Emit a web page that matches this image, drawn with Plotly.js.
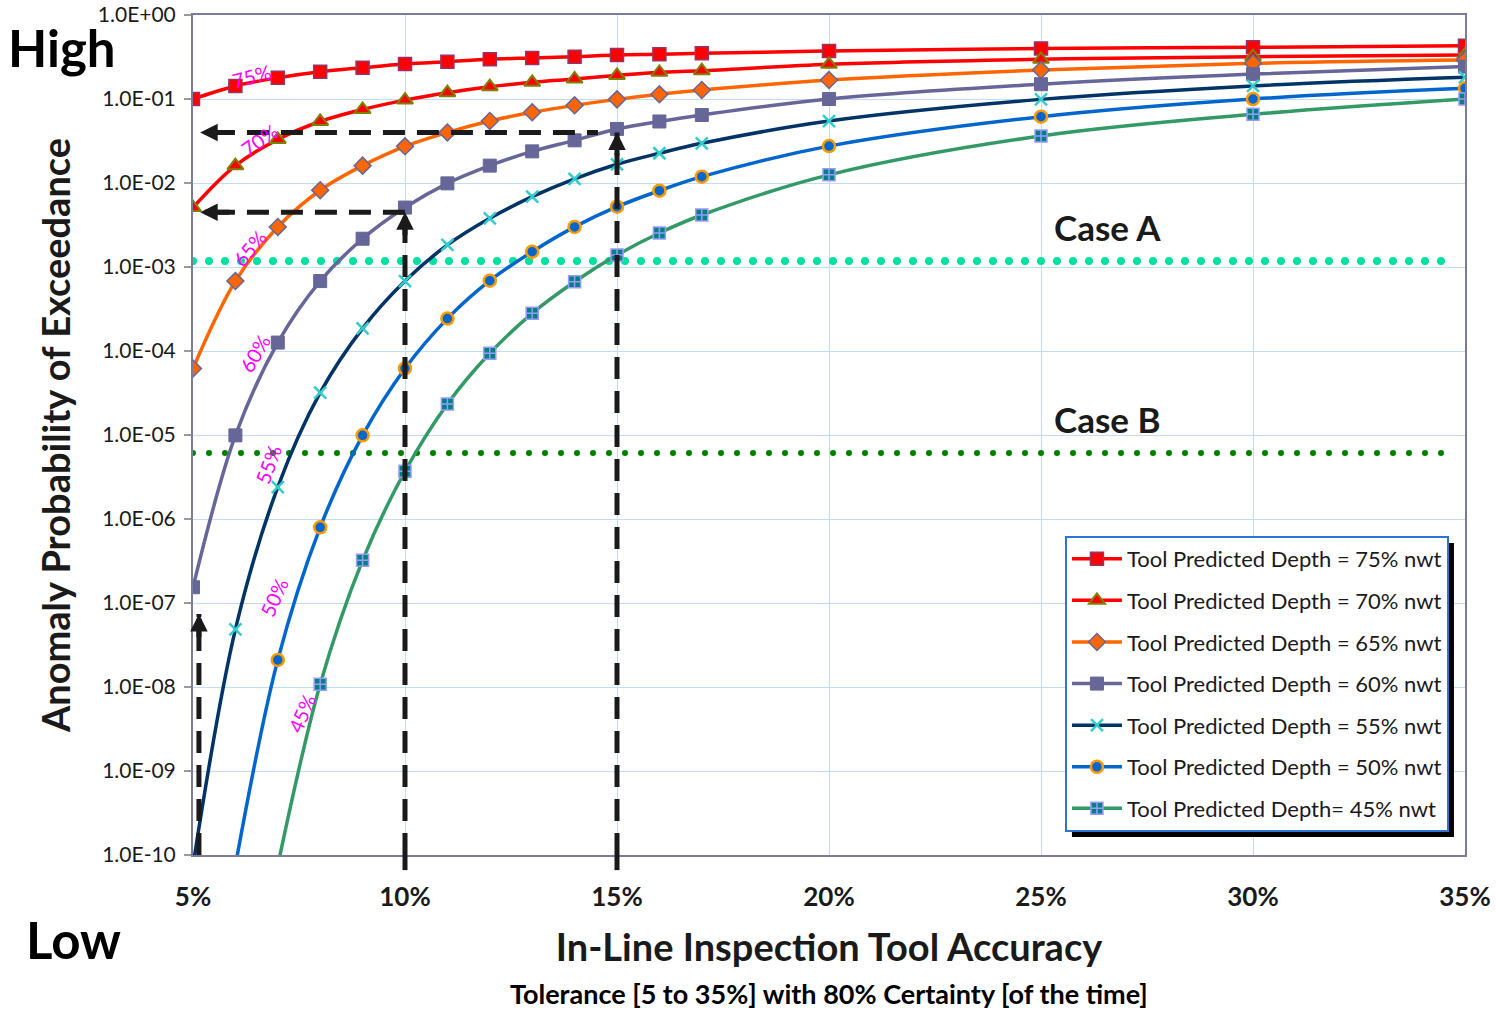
<!DOCTYPE html>
<html>
<head>
<meta charset="utf-8">
<script src="https://cdn.plot.ly/plotly-3.0.1.min.js"></script>
<style>
  html, body { margin: 0; padding: 0; background: #ffffff; }
  #chart { width: 1496px; height: 1009px; }
  /* round caps turn the zero-length dashes of the case lines into dots */
  .tracecaseA .js-line, .tracecaseB .js-line { stroke-linecap: round !important; }
</style>
</head>
<body>
<div id="chart"></div>
<script>
// Tool tolerance (% of wall thickness, 80% certainty)
const tolerance = [5, 6, 7, 8, 9, 10, 11, 12, 13, 14, 15, 16, 17, 20, 25, 30, 35];

// Probability of exceedance for each tool-predicted depth
const pod75 = [0.100, 0.143, 0.179, 0.211, 0.236, 0.261, 0.278, 0.297, 0.308, 0.319, 0.334, 0.340, 0.350, 0.373, 0.400, 0.412, 0.430];
const pod70 = [0.0051, 0.0161, 0.033, 0.054, 0.075, 0.097, 0.119, 0.140, 0.158, 0.173, 0.191, 0.208, 0.217, 0.259, 0.297, 0.319, 0.334];
const pod65 = [6.2e-5, 6.8e-4, 0.0030, 0.0082, 0.0161, 0.0273, 0.040, 0.0547, 0.0694, 0.084, 0.099, 0.114, 0.128, 0.168, 0.221, 0.266, 0.291];
const pod60 = [1.54e-7, 9.9e-6, 1.26e-4, 6.8e-4, 0.00217, 0.0051, 0.0099, 0.0161, 0.0238, 0.0322, 0.044, 0.054, 0.0645, 0.100, 0.150, 0.198, 0.243];
const pod55 = [7.5e-11, 4.86e-8, 2.4e-6, 3.19e-5, 1.86e-4, 6.8e-4, 0.00183, 0.0038, 0.00687, 0.0112, 0.0167, 0.0226, 0.0297, 0.0547, 0.099, 0.143, 0.181];
// the 50% and 45% series start at 6% and 7% tolerance
const pod50 = [7.5e-11, 2.1e-8, 7.96e-7, 9.9e-6, 6.2e-5, 2.43e-4, 6.87e-4, 0.00152, 0.0030, 0.00522, 0.0081, 0.0119, 0.0275, 0.0616, 0.100, 0.134];
const pod45 = [7.5e-11, 1.08e-8, 3.22e-7, 3.7e-6, 2.34e-5, 9.4e-5, 2.81e-4, 6.68e-4, 0.00139, 0.00254, 0.00416, 0.0125, 0.0363, 0.0657, 0.100];

const seriesNames = [
  'Tool Predicted Depth = 75% nwt',
  'Tool Predicted Depth = 70% nwt',
  'Tool Predicted Depth = 65% nwt',
  'Tool Predicted Depth = 60% nwt',
  'Tool Predicted Depth = 55% nwt',
  'Tool Predicted Depth = 50% nwt',
  'Tool Predicted Depth= 45% nwt'
];

// Acceptance thresholds
const caseA = 1.18e-3;
const caseB = 6.1e-6;
const caseLineEnd = 34.7;

// X tick labels
const xTickVals = [5, 10, 15, 20, 25, 30, 35];
const xTickText = ['5%', '10%', '15%', '20%', '25%', '30%', '35%'];
// Y tick labels
const yTickVals = [1e-10, 1e-9, 1e-8, 1e-7, 1e-6, 1e-5, 1e-4, 1e-3, 1e-2, 1e-1, 1];
const yTickText = ['1.0E-10', '1.0E-09', '1.0E-08', '1.0E-07', '1.0E-06', '1.0E-05', '1.0E-04', '1.0E-03', '1.0E-02', '1.0E-01', '1.0E+00'];

// Curve labels along the left edge: [text, tolerance, probability, angle]
const curveLabels = [
  ['75%', 6.37, 0.188, -15],
  ['70%', 6.56, 0.0325, -35],
  ['65%', 6.34, 0.00168, -50],
  ['60%', 6.46, 9.46e-5, -60],
  ['55%', 6.77, 4.4e-6, -70],
  ['50%', 6.91, 1.18e-7, -66],
  ['45%', 7.57, 4.9e-9, -66]
];

// Reading examples: dashed guides with arrows
const readHigh = 0.04;      // 60% depth at 15% tolerance
const readLow = 0.0045;     // 60% depth at 10% tolerance
const readLeft = 5.17;      // arrow tips at the probability axis
const readTipBottom = 7.4e-8;
const readBottomX = 5.14;

const FONT = 'Lato, "Open Sans", sans-serif';
const INK = '#1a1a1a';
const FRAME = '#7b7b9b';
const GRID = '#c3dcf5';

function series(x, y, name, lineColor, marker) {
  return {
    type: 'scatter', mode: 'lines+markers', x: x, y: y, name: name,
    legendgroup: name,
    line: { color: lineColor, width: 3.5, shape: 'spline', smoothing: 1 },
    marker: marker,
    hoverinfo: 'x+y+name'
  };
}

const traces = [
  {
    type: 'scatter', mode: 'lines', x: [5, caseLineEnd], y: [caseA, caseA],
    uid: 'caseA', showlegend: false, hoverinfo: 'skip',
    line: { color: '#00e0a0', width: 8, dash: '0px,16px' }
  },
  {
    type: 'scatter', mode: 'lines', x: [5, caseLineEnd], y: [caseB, caseB],
    uid: 'caseB', showlegend: false, hoverinfo: 'skip',
    line: { color: '#008000', width: 6, dash: '0px,16px' }
  },
  series(tolerance, pod75, seriesNames[0], '#ff0000',
    { symbol: 'square', size: 13, color: '#ff0000', line: { color: '#993366', width: 1.5 } }),
  series(tolerance, pod70, seriesNames[1], '#ff0000',
    { symbol: 'triangle-up', size: 14, color: '#ff0000', line: { color: '#808000', width: 2 } }),
  series(tolerance, pod65, seriesNames[2], '#ff6600',
    { symbol: 'diamond', size: 13, color: '#ff6600', line: { color: '#666699', width: 1.5 } }),
  series(tolerance, pod60, seriesNames[3], '#666699',
    { symbol: 'square', size: 13, color: '#666699', line: { color: '#666699', width: 1 } }),
  series(tolerance, pod55, seriesNames[4], '#003366',
    { symbol: 'x-thin-open', size: 12, color: '#33cccc', line: { color: '#33cccc', width: 2.5 } }),
  series(tolerance.slice(1), pod50, seriesNames[5], '#0066cc',
    { symbol: 'circle', size: 12, color: '#0066cc', line: { color: '#ff9900', width: 2.5 } }),
  series(tolerance.slice(2), pod45, seriesNames[6], '#339966',
    { symbol: 'square-cross', size: 12, color: '#008080', line: { color: '#9999ff', width: 1.5 } })
];

const lg = Math.log10;
const dashStyle = { color: INK, width: 5, dash: '22px,12px' };

const shapes = [
  // legend drop shadow (placed against the drawn legend box below)
  { type: 'rect', xref: 'paper', yref: 'paper', x0: 0.6895, x1: 0.9937, y0: 0.0202, y1: 0.3738,
    fillcolor: '#000000', line: { width: 0 }, layer: 'above' },
  // horizontal guides
  { type: 'line', xref: 'x', yref: 'y', x0: readLeft + 0.3, x1: 14.55, y0: readHigh, y1: readHigh, line: dashStyle },
  { type: 'line', xref: 'x', yref: 'y', x0: readLeft + 0.3, x1: 10.05, y0: readLow, y1: readLow, line: dashStyle },
  // vertical guides
  { type: 'line', xref: 'x', yref: 'y', x0: 10, x1: 10, y0: 1e-10, y1: readLow, line: dashStyle },
  { type: 'line', xref: 'x', yref: 'y', x0: 15, x1: 15, y0: 1e-10, y1: readHigh, line: dashStyle },
  { type: 'line', xref: 'x', yref: 'y', x0: readBottomX, x1: readBottomX, y0: 1e-10, y1: readTipBottom, line: dashStyle },
  // guide ends below the plot frame
  { type: 'line', xref: 'x', yref: 'paper', x0: 10, x1: 10, y0: -0.018, y1: 0, line: { color: INK, width: 5 } },
  { type: 'line', xref: 'x', yref: 'paper', x0: 15, x1: 15, y0: -0.018, y1: 0, line: { color: INK, width: 5 } }
];

function arrow(x, y, ax, ay) {
  return { x: x, y: lg(y), xref: 'x', yref: 'y', showarrow: true, arrowhead: 2,
    arrowsize: 0.7, arrowwidth: 5, arrowcolor: INK, ax: ax, ay: ay, standoff: 0 };
}

function paperText(text, x, y, size) {
  return { text: text, xref: 'paper', yref: 'paper', x: x, y: y, xanchor: 'center', yanchor: 'middle',
    showarrow: false, font: { family: FONT, size: size, color: '#000000' } };
}

const annotations = [
  arrow(readLeft, readHigh, 32, 0),
  arrow(readLeft, readLow, 32, 0),
  arrow(10, readLow, 0, 32),
  arrow(15, readHigh, 0, 32),
  arrow(readBottomX, readTipBottom, 0, 32),
  paperText('<b>High</b>', -0.103, 0.961, 51),
  paperText('<b>Low</b>', -0.0936, -0.101, 51),
  paperText('<b>Tolerance [5 to 35%] with 80% Certainty [of the time]</b>', 0.5, -0.1643, 27),
  { text: '<b>Case A</b>', xref: 'x', yref: 'y', x: 26.58, y: lg(0.003), xanchor: 'center', yanchor: 'middle',
    showarrow: false, font: { family: FONT, size: 35, color: INK } },
  { text: '<b>Case B</b>', xref: 'x', yref: 'y', x: 26.58, y: lg(1.55e-5), xanchor: 'center', yanchor: 'middle',
    showarrow: false, font: { family: FONT, size: 35, color: INK } }
];

curveLabels.forEach(function (c) {
  annotations.push({ text: c[0], xref: 'x', yref: 'y', x: c[1], y: lg(c[2]), textangle: c[3],
    xanchor: 'center', yanchor: 'middle',
    showarrow: false, font: { family: FONT, size: 20, color: '#ff00ff' } });
});

const layout = {
  width: 1496, height: 1009,
  margin: { l: 193, r: 31, t: 15, b: 154 },
  paper_bgcolor: '#ffffff', plot_bgcolor: '#ffffff',
  font: { family: FONT, color: INK },
  showlegend: true,
  xaxis: {
    range: [5, 35], tickvals: xTickVals, ticktext: xTickText,
    tickfont: { family: FONT, size: 26, weight: 700, color: INK },
    ticks: '', ticklabelstandoff: 18,
    showline: true, linecolor: FRAME, linewidth: 2, mirror: true,
    showgrid: true, gridcolor: GRID, gridwidth: 1, zeroline: false,
    title: { text: '<b>In-Line Inspection Tool Accuracy</b>', font: { family: FONT, size: 38, color: INK }, standoff: 23 }
  },
  xaxis2: {
    overlaying: 'x', side: 'top', anchor: 'y', range: [5, 35],
    tickmode: 'linear', tick0: 5, dtick: 1, ticks: 'outside', ticklen: 7,
    tickcolor: FRAME, tickwidth: 1.5, showticklabels: false, showgrid: false,
    showline: false, zeroline: false
  },
  yaxis: {
    type: 'log', range: [-10, 0], tickvals: yTickVals, ticktext: yTickText,
    tickfont: { family: FONT, size: 21, color: INK },
    ticks: 'outside', ticklen: 7, tickcolor: '#999999', tickwidth: 1.5, ticklabelstandoff: 4,
    showline: true, linecolor: FRAME, linewidth: 2, mirror: true,
    showgrid: true, gridcolor: GRID, gridwidth: 1, zeroline: false,
    title: { text: '<b>Anomaly Probability of Exceedance</b>', font: { family: FONT, size: 38, color: INK }, standoff: 16 }
  },
  legend: {
    x: 0.6855, y: 0.3798, xanchor: 'left', yanchor: 'top',
    bgcolor: '#ffffff', bordercolor: '#2e75d2', borderwidth: 2,
    font: { family: FONT, size: 22, color: INK },
    tracegroupgap: 10, itemwidth: 50
  },
  shapes: shapes,
  annotations: annotations
};

Plotly.newPlot('chart', traces, layout, { displayModeBar: false, responsive: false }).then(function (gd) {
  // fit the drop shadow to the legend box, offset down and to the right
  const bg = gd.querySelector('.legend .bg');
  if (!bg) return;
  const box = bg.getBoundingClientRect();
  const root = gd.getBoundingClientRect();
  const sz = gd._fullLayout._size;
  const off = 6;
  const left = box.left - root.left + off, right = box.right - root.left + off;
  const top = box.top - root.top + off, bottom = box.bottom - root.top + off;
  return Plotly.relayout(gd, {
    'shapes[0].x0': (left - sz.l) / sz.w,
    'shapes[0].x1': (right - sz.l) / sz.w,
    'shapes[0].y0': (sz.t + sz.h - bottom) / sz.h,
    'shapes[0].y1': (sz.t + sz.h - top) / sz.h
  });
});
</script>
</body>
</html>
